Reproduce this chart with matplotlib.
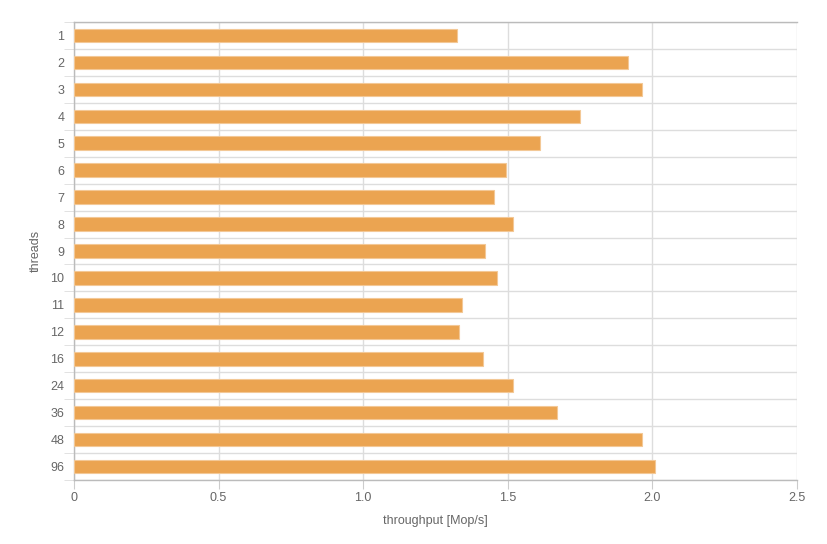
import numpy as np
import matplotlib.pyplot as plt
from matplotlib.ticker import FixedLocator

plt.rcParams['font.family'] = ['Liberation Sans', 'DejaVu Sans']

threads = ['1', '2', '3', '4', '5', '6', '7', '8', '9', '10', '11', '12',
           '16', '24', '36', '48', '96']
throughput = [1.326, 1.915, 1.964, 1.751, 1.611, 1.494, 1.454, 1.520, 1.421,
              1.464, 1.343, 1.331, 1.416, 1.520, 1.672, 1.964, 2.011]
x_ticks = [0, 0.5, 1.0, 1.5, 2.0, 2.5]
x_tick_labels = ['0', '0.5', '1.0', '1.5', '2.0', '2.5']

fig = plt.figure(figsize=(8.28, 5.44), dpi=100)
ax = fig.add_axes([0.0894, 0.1176, 0.9622 - 0.0894, 0.9596 - 0.1176])

pos = np.arange(len(threads))
ax.barh(pos, throughput, height=0.5, color='#eba451',
        edgecolor='#f3c896', linewidth=0.8, zorder=3)

ax.set_xlim(0, 2.5)
ax.set_ylim(len(threads) - 0.5, -0.5)

ax.set_xticks(x_ticks)
ax.set_xticklabels(x_tick_labels)
ax.set_yticks(pos)
ax.set_yticklabels(threads)
ax.yaxis.set_minor_locator(FixedLocator(np.arange(-0.5, len(threads), 1.0)))

ax.tick_params(axis='x', which='major', length=6.5, color='#cccccc',
               labelcolor='#666666', labelsize=9, pad=2)
ax.tick_params(axis='y', which='major', length=0, labelcolor='#666666',
               labelsize=9, pad=7)
ax.tick_params(axis='y', which='minor', length=7.5, color='#dddddd')

ax.grid(axis='x', which='major', color='#dddddd', linewidth=1, zorder=0)
ax.grid(axis='y', which='minor', color='#dddddd', linewidth=1, zorder=0)
ax.set_axisbelow(True)

for side in ['top', 'left', 'bottom']:
    ax.spines[side].set_color('#bbbbbb')
    ax.spines[side].set_linewidth(1)
ax.spines['right'].set_visible(False)

ax.set_xlabel('throughput [Mop/s]', fontsize=9, color='#666666', labelpad=8)
ax.set_ylabel('threads', fontsize=9, color='#666666', labelpad=6)

fig.savefig('out.png', dpi=100)
